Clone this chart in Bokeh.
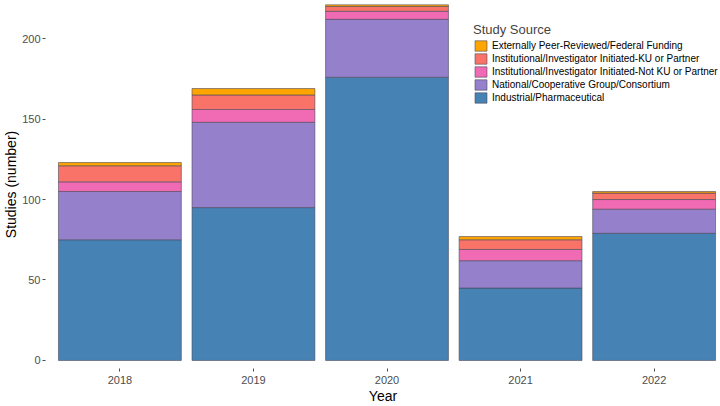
from bokeh.plotting import figure
from bokeh.models import Legend, LegendItem, FixedTicker, ColumnDataSource
from bokeh.embed import file_html
from bokeh.resources import INLINE

years = ["2018", "2019", "2020", "2021", "2022"]
industrial = [75, 95, 176, 45, 79]
national = [30, 53, 36, 17, 15]
not_ku = [6, 8, 5, 7, 6]
ku = [10, 9, 3, 6, 4]
external = [2, 4, 1, 2, 1]

series_names = [
    "Industrial/Pharmaceutical",
    "National/Cooperative Group/Consortium",
    "Institutional/Investigator Initiated-Not KU or Partner",
    "Institutional/Investigator Initiated-KU or Partner",
    "Externally Peer-Reviewed/Federal Funding",
]
colors = ["#4682B4", "#9580CC", "#F06BB4", "#FA7369", "#FFA500"]
keys = ["industrial", "national", "not_ku", "ku", "external"]

xs = list(range(1, len(years) + 1))
source = ColumnDataSource(dict(x=xs, industrial=industrial, national=national,
                               not_ku=not_ku, ku=ku, external=external))

FONT = "Liberation Sans"

p = figure(width=720, height=406, output_backend="svg", toolbar_location=None,
           x_range=(0.443, 5.497), y_range=(-5.0, 223.7),
           min_border_left=30, min_border_right=0, min_border_top=0, min_border_bottom=34)
p.outline_line_color = None
p.background_fill_color = "white"
p.border_fill_color = "white"

renderers = p.vbar_stack(keys, x="x", width=0.92, source=source, color=colors,
                         line_color="#4a4a5a", line_width=0.6)

p.xgrid.visible = False
p.ygrid.visible = False

p.xaxis.ticker = FixedTicker(ticks=xs)
p.xaxis.major_label_overrides = {x: y for x, y in zip(xs, years)}
p.yaxis.ticker = FixedTicker(ticks=[0, 50, 100, 150, 200])

for ax in (p.xaxis[0], p.yaxis[0]):
    ax.axis_line_color = None
    ax.major_tick_line_color = "#4D4D4D"
    ax.major_tick_in = 0
    ax.major_tick_out = 3
    ax.minor_tick_line_color = None
    ax.major_label_text_font = FONT
    ax.major_label_text_font_size = "11px"
    ax.major_label_text_color = "#4D4D4D"
    ax.axis_label_text_font = FONT
    ax.axis_label_text_font_size = "14px"
    ax.axis_label_text_font_style = "normal"
    ax.axis_label_text_color = "black"

p.xaxis.major_label_standoff = 4
p.xaxis.axis_label = "Year"
p.xaxis.axis_label_standoff = 1
p.yaxis.major_label_standoff = 2
p.yaxis.axis_label = "Studies (number)"
p.yaxis.axis_label_standoff = 0

items = [LegendItem(label=n, renderers=[r]) for n, r in zip(series_names, renderers)]
items = items[::-1]
legend = Legend(items=items, location=(428, 264), title="Study Source",
                title_text_font=FONT, title_text_font_size="13px", title_text_font_style="normal",
                title_standoff=2,
                label_text_font=FONT, label_text_font_size="10px", label_text_color="black",
                glyph_width=15, glyph_height=13, label_height=13, spacing=0,
                label_standoff=4, padding=2, margin=0,
                background_fill_alpha=0, border_line_color=None)
p.add_layout(legend, "center")

open("out.html", "w").write(file_html(p, INLINE))
